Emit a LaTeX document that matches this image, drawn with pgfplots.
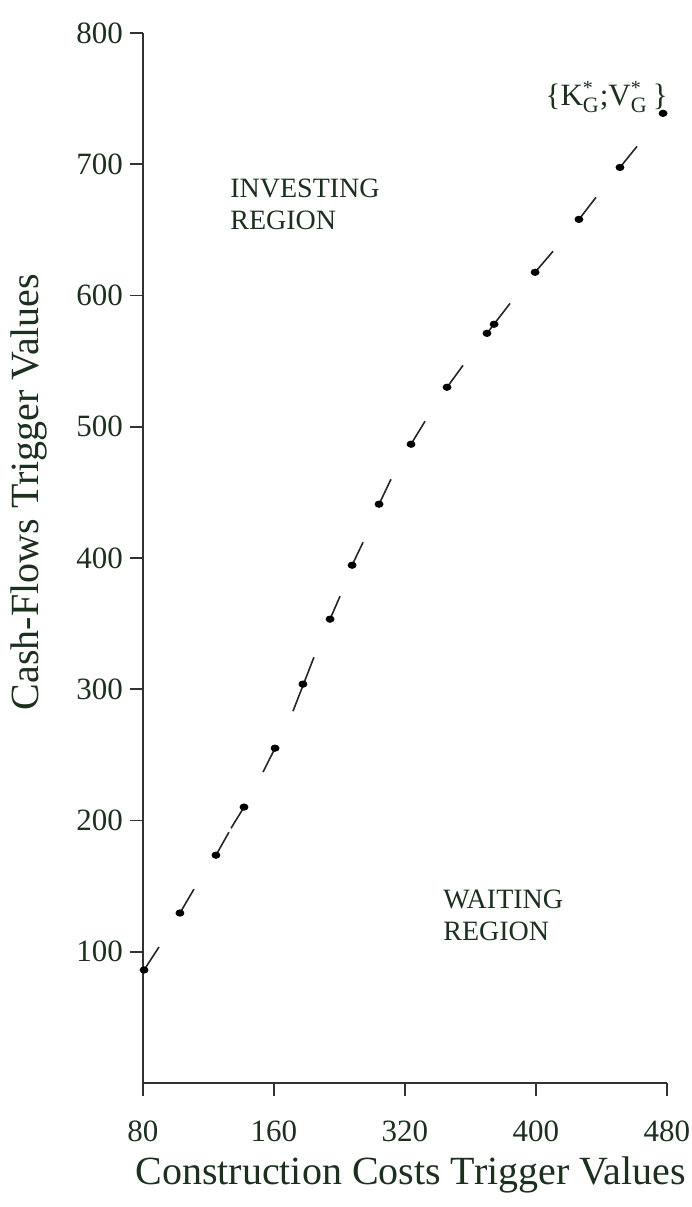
\documentclass[border=0pt]{standalone}
\usepackage{fontspec}
\setmainfont{Liberation Serif}
\usepackage{pgfplots}
\pgfplotsset{compat=1.18}
\definecolor{txt}{RGB}{28,48,30}
\definecolor{axc}{RGB}{50,50,50}
\begin{document}
\begin{tikzpicture}
\begin{axis}[
  at={(0pt,0pt)}, anchor=south west,
  scale only axis, width=262pt, height=525pt,
  xmin=80, xmax=480, ymin=0, ymax=800,
  clip=false,
  axis lines=left,
  axis line style={-, color=axc, line width=0.8pt},
  xtick={80,180,280,380,480},
  xticklabels={80,160,320,400,480},
  ytick={100,200,300,400,500,600,700,800},
  tick align=outside,
  major tick length=6.5pt,
  tick style={color=axc, line width=0.8pt},
  ticklabel style={font=\fontsize{15.5}{16}\selectfont, text=txt},
  xticklabel style={yshift=-9pt},
  /pgf/number format/assume math mode=true,
  xlabel={Construction Costs Trigger Values},
  ylabel={Cash-Flows Trigger Values},
  xlabel style={font=\fontsize{20}{24}\selectfont, text=txt, at={(axis description cs:0.511,-0.0971)}, anchor=base},
  ylabel style={font=\fontsize{20}{24}\selectfont, text=txt, at={(axis description cs:-0.200,0.563)}, anchor=base, rotate=0},
  unbounded coords=jump,
]
\addplot[color=black!85, line width=0.8pt, mark=none] coordinates {
(80.8,86.1) (92.2,103.6) (nan,nan)
(108.2,129.5) (118.9,147.7) (nan,nan)
(135.7,173.6) (145.6,191.1) (nan,nan)
(147.2,194.1) (157.1,210.2) (nan,nan)
(171.6,236.9) (180.8,255.1) (nan,nan)
(194.5,283.3) (210.5,324.4) (nan,nan)
(222.8,353.4) (230.4,370.9) (nan,nan)
(239.6,394.5) (248.0,412.0) (nan,nan)
(260.2,441.0) (269.3,460.0) (nan,nan)
(284.6,486.7) (295.3,504.2) (nan,nan)
(312.1,530.1) (324.3,546.8) (nan,nan)
(342.6,571.2) (360.2,594.0) (nan,nan)
(379.3,617.7) (393.0,633.7) (nan,nan)
(412.8,658.0) (425.8,674.8) (nan,nan)
(444.1,697.6) (457.1,713.6)
};
\addplot[only marks, mark=*, mark size=1.6pt, color=black, mark options={xscale=1.25}] coordinates {
(80.8,86.1) (108.2,129.5) (135.7,173.6) (157.1,210.2) (180.8,255.1)
(202.1,303.9) (222.8,353.4) (239.6,394.5) (260.2,441.0) (284.6,486.7)
(312.1,530.1) (342.6,571.2) (348.0,578.1) (379.3,617.7) (412.8,658.0)
(444.1,697.6) (477.0,738.8)
};
\node[anchor=base west, font=\fontsize{14}{16}\selectfont, text=txt, inner sep=0pt] at (axis cs:146.4,674.8) {INVESTING};
\node[anchor=base west, font=\fontsize{14}{16}\selectfont, text=txt, inner sep=0pt] at (axis cs:146.4,650.4) {REGION};
\node[anchor=base west, font=\fontsize{14}{16}\selectfont, text=txt, inner sep=0pt] at (axis cs:309.0,133.3) {WAITING};
\node[anchor=base west, font=\fontsize{14}{16}\selectfont, text=txt, inner sep=0pt] at (axis cs:309.0,108.9) {REGION};
\node[anchor=base, font=\fontsize{15.5}{17}\selectfont, text=txt, inner sep=0pt] at (axis cs:434.0,745.0)
 {\{K$^{\mbox{\fontsize{10}{10}\selectfont *}}_{\mbox{\fontsize{11}{11}\selectfont G}}$;V$^{\mbox{\fontsize{10}{10}\selectfont *}}_{\mbox{\fontsize{11}{11}\selectfont G}}$\,\}};
\end{axis}
\pgfresetboundingbox
\path[use as bounding box] (-71.5pt,-62pt) rectangle (274.5pt,541.5pt);
\end{tikzpicture}
\end{document}
